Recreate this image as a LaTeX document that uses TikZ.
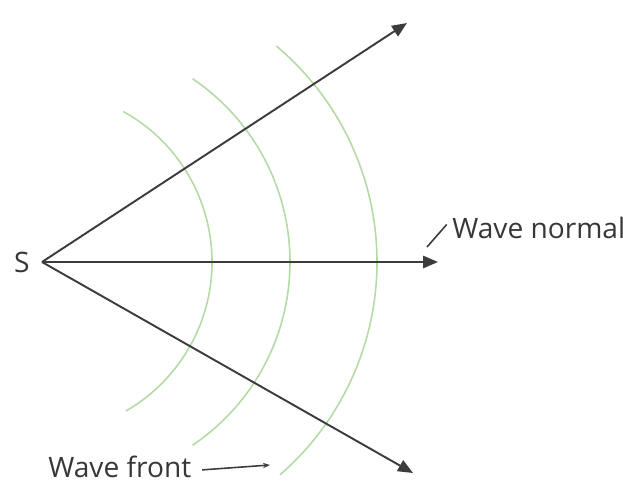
\documentclass[tikz,border=0pt]{standalone}
\usepackage{fontspec}
\setmainfont{Open Sans}
\usepackage{tikz}
\usetikzlibrary{arrows.meta,positioning,calc}
\definecolor{raygray}{RGB}{60,60,60}
\definecolor{frontgreen}{RGB}{180,218,165}
\definecolor{textgray}{RGB}{55,55,55}

\begin{document}
\begin{tikzpicture}[
  ray/.style={-{Triangle[length=8.5pt,width=7pt]}, line width=1.1pt, color=raygray},
  front/.style={line width=0.9pt, color=frontgreen},
  lbl/.style={font=\fontsize{16}{19}\selectfont, text=textgray, inner sep=0pt},
  lead/.style={line width=0.9pt, color=raygray}
]
  \useasboundingbox (0,0) rectangle (12.46,9.72);
  % source and ray ends
  \coordinate (src) at (0.84,4.48);
  \coordinate (up) at (8.14,9.26);
  \coordinate (mid) at (8.76,4.48);
  \coordinate (low) at (8.26,0.26);
  \node[lbl, left=0.24cm of src](s){S};
  % wave fronts
  \draw[front] ($(0.80,4.48)+(61:3.44)$) arc[start angle=61, end angle=-60, radius=3.44];
  \draw[front] ($(1.38,4.48)+(56:4.42)$) arc[start angle=56, end angle=-56, radius=4.42];
  \draw[front] ($(1.90,4.48)+(50:5.64)$) arc[start angle=50, end angle=-49, radius=5.64];
  % rays
  \draw[ray](src)--(up);
  \draw[ray](src)--(mid);
  \draw[ray](src)--(low);
  % labels
  \node[lbl, anchor=west](wn) at (9.04,5.16){Wave normal};
  \coordinate (wnend) at (8.54,4.78);
  \draw[lead]([xshift=-3pt,yshift=2pt]wn.west)--(wnend);
  \node[lbl, anchor=base west](wf) at (0.96,0.18){Wave front};
  \coordinate (wfend) at (5.40,0.42);
  \draw[lead,-{Stealth[length=4pt,width=3pt]}]([xshift=6pt,yshift=-2pt]wf.east)--(wfend);
\end{tikzpicture}
\end{document}
